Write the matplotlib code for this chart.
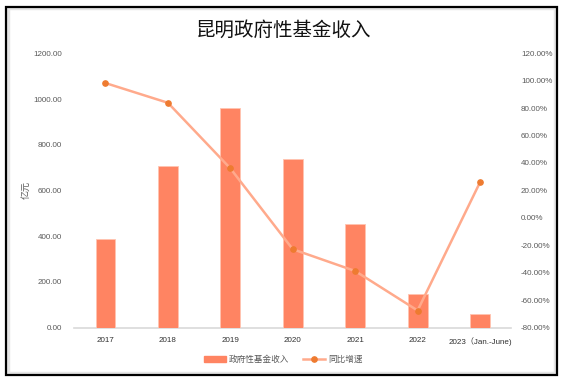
import numpy as np
import matplotlib
matplotlib.use('Agg')
import matplotlib.pyplot as plt
from matplotlib.patches import Rectangle
from matplotlib.lines import Line2D

plt.rcParams['font.family'] = ['Liberation Sans', 'Noto Sans CJK SC']

# data
years = ['2017', '2018', '2019', '2020', '2021', '2022', '2023（Jan.-June)']
revenue = [386, 707, 959, 737, 452, 145, 60]          # 亿元
growth = [98.3, 83.9, 36.1, -22.9, -38.8, -67.6, 25.9]  # %

bar_color = '#FF8462'
line_color = '#FFAA8C'
marker_color = '#EE7B30'
text_color = '#595959'

fig = plt.figure(figsize=(5.64, 3.83), dpi=100)
ax = fig.add_axes([0.1317, 0.1449, 0.7747, 0.7159])
ax2 = ax.twinx()

x = np.arange(len(years))
ax.bar(x, revenue, width=0.32, color=bar_color, edgecolor='#FFC4B0', linewidth=0.6, zorder=2)
ax.set_xlim(-0.5, len(years) - 0.5)
ax.set_ylim(0, 1200)
ax.set_yticks(np.arange(0, 1201, 200))
ax.set_yticklabels([f'{v:.2f}' for v in np.arange(0, 1201, 200)])
ax.set_xticks(x)
ax.set_xticklabels(years)
ax.set_ylabel('亿元', fontsize=6.5, color=text_color, labelpad=2)

ax2.plot(x, growth, color=line_color, linewidth=1.8, zorder=3)
ax2.plot(x, growth, 'o', color=marker_color, markersize=3.8, zorder=4)
ax2.set_ylim(-80, 120)
ax2.set_yticks(np.arange(-80, 121, 20))
ax2.set_yticklabels([f'{v:.2f}%' for v in np.arange(-80, 121, 20)])

for a in (ax, ax2):
    for s in ['top', 'left', 'right', 'bottom']:
        a.spines[s].set_visible(False)
ax.axhline(0, color='#D9D9D9', linewidth=1.2, zorder=1, clip_on=False)

ax.tick_params(axis='y', length=0, pad=9, labelsize=5.8, labelcolor=text_color)
ax.tick_params(axis='x', length=0, pad=7, labelsize=5.8, labelcolor='#303030')
ax2.tick_params(axis='y', length=0, pad=7, labelsize=5.8, labelcolor=text_color)

fig.text(0.502, 0.92, '昆明政府性基金收入', ha='center', va='center',
         fontsize=14, color='#111111', weight='medium', family=['Noto Sans CJK SC'])

handles = [Rectangle((0, 0), 1, 1, color=bar_color),
           Line2D([], [], color=line_color, linewidth=1.8, marker='o',
                  markerfacecolor=marker_color, markeredgecolor=marker_color, markersize=3.8)]
fig.legend(handles, ['政府性基金收入', '同比增速'], loc='center', bbox_to_anchor=(0.502, 0.062),
           ncol=2, frameon=False, fontsize=6.2, labelcolor=text_color,
           handlelength=2.6, handletextpad=0.3, columnspacing=1.6)

# outer frame with light inner shadow
fig.add_artist(Rectangle((0.0133, 0.0255), 0.9716, 0.9545, transform=fig.transFigure,
                         fill=False, edgecolor='#E6E6E6', linewidth=2.5))
fig.add_artist(Rectangle((0.0106, 0.0209), 0.9770, 0.9608, transform=fig.transFigure,
                         fill=False, edgecolor='black', linewidth=1.6))

fig.savefig('out.png', dpi=100)
